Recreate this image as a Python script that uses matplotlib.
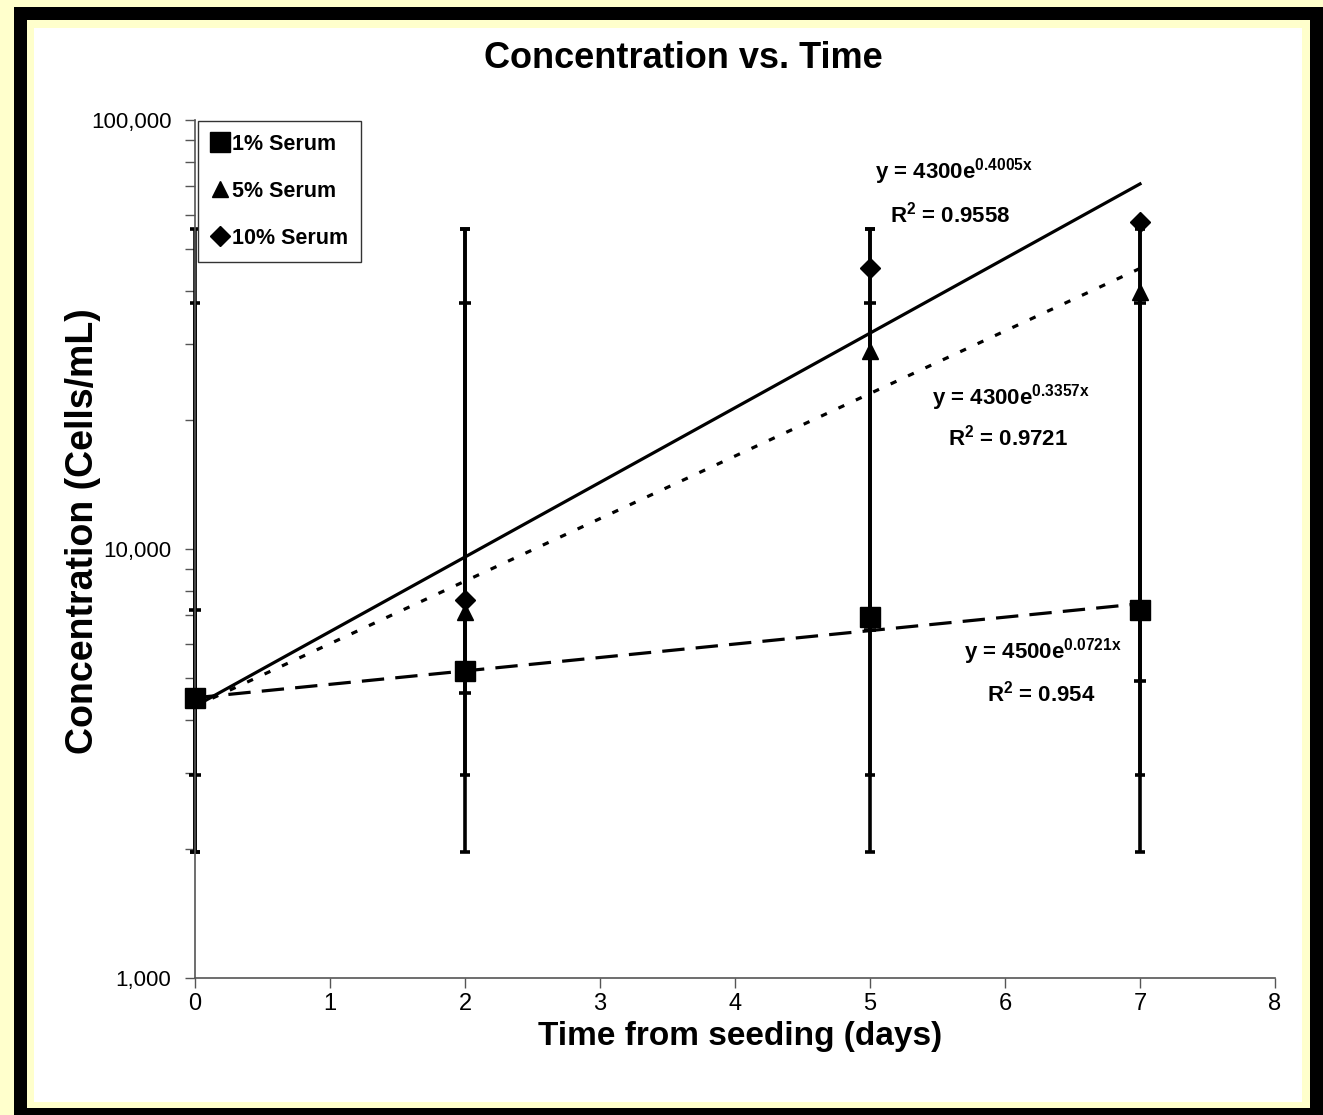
import matplotlib
matplotlib.use("Agg")
import matplotlib.pyplot as plt
import numpy as np
from matplotlib.patches import Rectangle
from matplotlib.lines import Line2D
from matplotlib.ticker import FixedLocator, FuncFormatter, NullFormatter

# data
days = [0, 2, 5, 7]
serum_1 = [4500, 5200, 6950, 7200]
serum_5 = [4500, 7150, 28900, 39700]
serum_10 = [4500, 7600, 45200, 57800]

# error bar ends (low, high)
low_1 = [2970, 4620, 6480, 4920]
high_1 = [7200, 37400, 37400, 37400]
low_5 = [1970, 2970, 2970, 2970]
high_5 = [37400, 55700, 55700, 55700]
low_10 = [1970, 1970, 1970, 1970]
high_10 = [55700, 55700, 55700, 57800]

# exponential trendlines y = a * e^(b x)
fit_a = [4500, 4300, 4300]
fit_b = [0.0721, 0.3357, 0.4005]
fit_r2 = ["0.954", "0.9721", "0.9558"]
fit_x = [0, 7]

labels = ["1% Serum", "5% Serum", "10% Serum"]

W, H = 1323, 1115
plt.rcParams['font.family'] = ['Liberation Sans', 'DejaVu Sans']
plt.rcParams['mathtext.fontset'] = 'custom'
plt.rcParams['mathtext.rm'] = 'Liberation Sans'
plt.rcParams['mathtext.bf'] = 'Liberation Sans:bold'

fig = plt.figure(figsize=(W / 100, H / 100), dpi=100, facecolor='#FFFFCC')

def px_rect(x0, y0, x1, y1, color):
    r = Rectangle((x0 / W, 1 - y1 / H), (x1 - x0) / W, (y1 - y0) / H,
                  transform=fig.transFigure, facecolor=color, edgecolor='none', zorder=-10)
    fig.patches.append(r)

px_rect(14, 7, W + 5, H + 5, 'black')
px_rect(27, 20, 1310, 1108, '#FFFFCC')
px_rect(34, 28, 1302, 1102, 'white')

ax = fig.add_axes([195 / W, 1 - 978 / H, 1080 / W, 858 / H])
ax.set_facecolor('none')
ax.set_yscale('log')
ax.set_xlim(0, 8)
ax.set_ylim(1000, 100000)

for s in ['top', 'right']:
    ax.spines[s].set_visible(False)
for s in ['left', 'bottom']:
    ax.spines[s].set_color('#555555')
    ax.spines[s].set_linewidth(1.2)

# error bars
for vals, lo, hi, cs in [(serum_1, low_1, high_1, 4.5),
                         (serum_5, low_5, high_5, 3.5),
                         (serum_10, low_10, high_10, 3.5)]:
    v = np.array(vals, dtype=float)
    yerr = [v - np.array(lo), np.array(hi) - v]
    eb = ax.errorbar(days, v, yerr=yerr, fmt='none', ecolor='black',
                     elinewidth=2.6, capsize=cs, capthick=2.6, zorder=2)
    for art in eb.lines[1] + eb.lines[2]:
        art.set_clip_on(False)

# trendlines
styles = [(0, (7, 3.5)), (0, (2, 4)), '-']
for a, b, ls in zip(fit_a, fit_b, styles):
    xx = np.array(fit_x, dtype=float)
    ax.plot(xx, a * np.exp(b * xx), color='black', lw=2.3, ls=ls, zorder=3)

# markers
ax.plot(days, serum_10, ls='none', marker='D', ms=10, color='black', zorder=4, clip_on=False)
ax.plot(days, serum_5, ls='none', marker='^', ms=12, color='black', zorder=4, clip_on=False)
ax.plot(days, serum_1, ls='none', marker='s', ms=14, color='black', zorder=5, clip_on=False)

# ticks
ax.xaxis.set_major_locator(FixedLocator(range(0, 9)))
ax.yaxis.set_major_locator(FixedLocator([1000, 10000, 100000]))
ax.yaxis.set_minor_locator(FixedLocator([m * 10 ** e for e in (3, 4) for m in range(2, 10)]))
ax.yaxis.set_major_formatter(FuncFormatter(lambda v, p: f"{int(v):,}"))
ax.yaxis.set_minor_formatter(NullFormatter())
ax.tick_params(axis='x', direction='out', length=7, width=1, color='#555555',
               labelsize=17, pad=4)
ax.tick_params(axis='y', which='both', direction='out', length=7, width=1,
               color='#555555', labelsize=16, pad=10)

# equation labels
eq_pos = [((5.70, 5755), (5.87, 4615)),
          ((5.46, 22600), (5.58, 18150)),
          ((5.04, 75700), (5.15, 60100))]
for a, b, r2, (p1, p2) in zip(fit_a, fit_b, fit_r2, eq_pos):
    ax.text(p1[0], p1[1], f"y = {a}e$^{{\\mathbf{{{b}x}}}}$", fontsize=16,
            fontweight='bold', ha='left', va='center', zorder=6)
    ax.text(p2[0], p2[1], f"R$^{{\\mathbf{{2}}}}$ = {r2}", fontsize=16,
            fontweight='bold', ha='left', va='center', zorder=6)

# legend
handles = [Line2D([], [], ls='none', marker='s', ms=14, color='black'),
           Line2D([], [], ls='none', marker='^', ms=12, color='black'),
           Line2D([], [], ls='none', marker='D', ms=10, color='black')]
leg = fig.legend(handles, labels, loc='upper left', bbox_to_anchor=(198 / W, 1 - 121 / H),
                 frameon=True, fancybox=False, edgecolor='#333333', framealpha=1,
                 borderaxespad=0, borderpad=0.6, handlelength=0.8, handletextpad=0.2,
                 labelspacing=1.2, prop={'size': 15.5, 'weight': 'bold'})
leg.get_frame().set_linewidth(1.0)
leg.set_zorder(10)

fig.text(683 / W, 1 - 58 / H, "Concentration vs. Time", fontsize=26, fontweight='bold',
         ha='center', va='center')
fig.text(740 / W, 1 - 1037 / H, "Time from seeding (days)", fontsize=24, fontweight='bold',
         ha='center', va='center')
fig.text(83 / W, 1 - 531 / H, "Concentration (Cells/mL)", fontsize=27, fontweight='bold',
         ha='center', va='center', rotation=90)

fig.savefig("out.png", dpi=100, facecolor=fig.get_facecolor())
